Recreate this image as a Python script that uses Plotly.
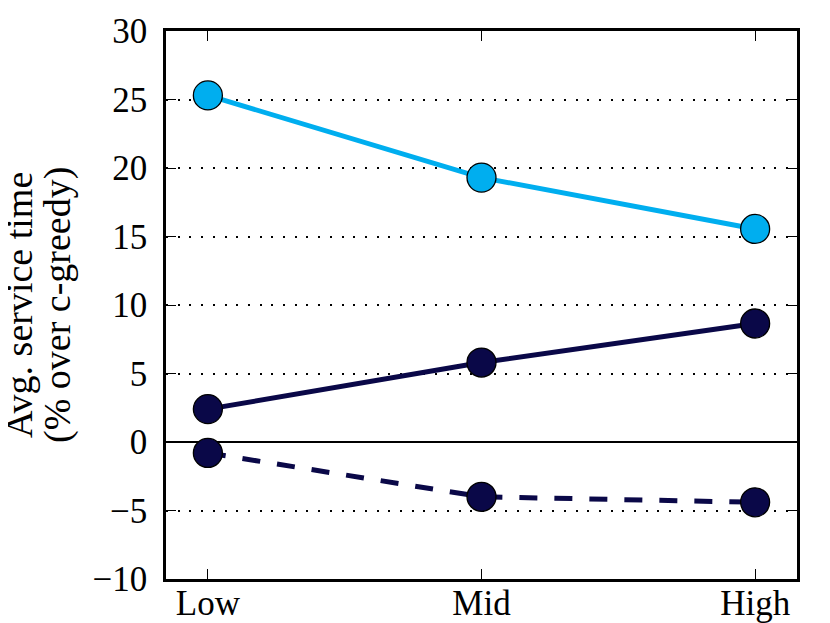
import plotly.graph_objects as go

categories = ["Low", "Mid", "High"]
series_light = [25.3, 19.3, 15.55]
series_dark_solid = [2.4, 5.8, 8.65]
series_dark_dashed = [-0.8, -4.0, -4.4]
y_ticks = [-10, -5, 0, 5, 10, 15, 20, 25, 30]
y_label_lines = ["Avg. service time", "(% over c-greedy)"]

LIGHT = "#00aeef"
DARK = "#0a0848"
FONT = "Liberation Serif"

fig = go.Figure()

def add(vals, color, dash):
    fig.add_trace(go.Scatter(
        x=categories, y=vals, mode="lines+markers",
        line=dict(color=color, width=5, dash=dash),
        marker=dict(size=29, color=color, line=dict(color="black", width=1.3)),
        showlegend=False,
    ))

add(series_light, LIGHT, "solid")
add(series_dark_solid, DARK, "solid")
add(series_dark_dashed, DARK, "18px,17px")

# page body has an 8px margin; compensate so plot area lands where the reference has it
fig.update_layout(
    width=822, height=615,
    margin=dict(l=158, r=33, t=23, b=44, autoexpand=False),
    paper_bgcolor="white", plot_bgcolor="white",
    font=dict(family=FONT, size=35, color="black"),
)
fig.update_xaxes(
    type="category", range=[-0.153, 2.153], automargin=False,
    showline=True, linecolor="black", linewidth=2.5, mirror="ticks",
    ticks="inside", ticklen=10, tickwidth=1.3, tickcolor="black",
    showgrid=False, zeroline=False, ticklabelstandoff=-9,
    tickfont=dict(family=FONT, size=35),
)
fig.update_yaxes(
    range=[-10, 30], tickvals=y_ticks, automargin=False,
    showline=True, linecolor="black", linewidth=2.5, mirror="ticks",
    ticks="inside", ticklen=10, tickwidth=1.3, tickcolor="black",
    showgrid=True, gridcolor="black", gridwidth=1.5, griddash="2px,9.7px",
    zeroline=True, zerolinecolor="black", zerolinewidth=2.2,
    ticklabelstandoff=9,
    tickfont=dict(family=FONT, size=35),
)

for text, shift in zip(y_label_lines, [-147, -109]):
    fig.add_annotation(
        text=text, xref="paper", yref="paper", x=0, y=0.5,
        xshift=shift, xanchor="center", yanchor="middle",
        textangle=-90, showarrow=False,
        font=dict(family=FONT, size=38, color="black"),
    )

fig.write_html("out.html")
